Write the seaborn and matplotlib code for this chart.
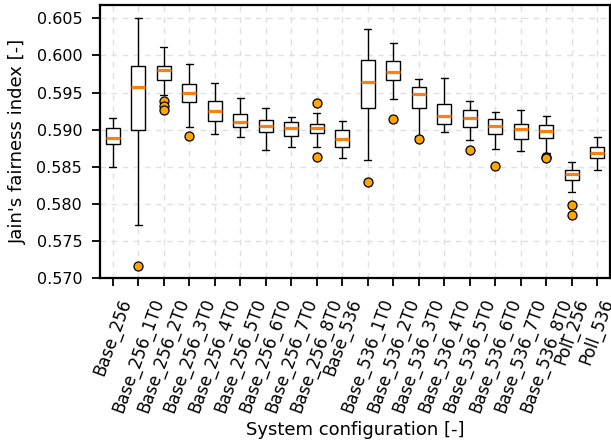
import matplotlib
matplotlib.use("Agg")
import matplotlib.pyplot as plt
import pandas as pd
import seaborn as sns

# configurations on the x axis
configs = [
    "Base_256", "Base_256_1T0", "Base_256_2T0", "Base_256_3T0", "Base_256_4T0",
    "Base_256_5T0", "Base_256_6T0", "Base_256_7T0", "Base_256_8T0", "Base_536",
    "Base_536_1T0", "Base_536_2T0", "Base_536_3T0", "Base_536_4T0", "Base_536_5T0",
    "Base_536_6T0", "Base_536_7T0", "Base_536_8T0", "Poll_256", "Poll_536",
]

# box statistics
whisker_lo = [0.5850, 0.5771, 0.5947, 0.5903, 0.5894, 0.5890, 0.5872, 0.5877, 0.5877, 0.5862,
              0.5859, 0.5941, 0.5892, 0.5897, 0.5886, 0.5874, 0.5871, 0.5868, 0.5816, 0.5846]
q1 = [0.5880, 0.5899, 0.5967, 0.5937, 0.5911, 0.5904, 0.5897, 0.5892, 0.5895, 0.5876,
      0.5929, 0.5967, 0.5929, 0.5907, 0.5904, 0.5894, 0.5888, 0.5889, 0.5832, 0.5862]
median = [0.5889, 0.5957, 0.5980, 0.5950, 0.5925, 0.5910, 0.5905, 0.5902, 0.5902, 0.5887,
          0.5964, 0.5978, 0.5948, 0.5919, 0.5916, 0.5905, 0.5901, 0.5898, 0.5840, 0.5868]
q3 = [0.5902, 0.5986, 0.5986, 0.5961, 0.5939, 0.5921, 0.5913, 0.5910, 0.5908, 0.5900,
      0.5994, 0.5993, 0.5957, 0.5934, 0.5926, 0.5914, 0.5907, 0.5906, 0.5846, 0.5876]
whisker_hi = [0.5916, 0.6050, 0.6011, 0.5988, 0.5963, 0.5942, 0.5929, 0.5917, 0.5923, 0.5912,
              0.6035, 0.6017, 0.5968, 0.5969, 0.5938, 0.5924, 0.5926, 0.5919, 0.5856, 0.5890]
outliers = [
    [], [0.5716], [0.5938, 0.5932, 0.5927], [0.5892], [], [], [], [], [0.5936, 0.5863], [],
    [0.5829], [0.5914], [0.5887], [], [0.5872], [0.5851], [], [0.5863, 0.5862],
    [0.5799, 0.5785], [],
]


def build_frames():
    box_rows = []
    for i, c in enumerate(configs):
        for v in (whisker_lo[i], q1[i], median[i], q3[i], whisker_hi[i]):
            box_rows.append({"config": c, "value": v})
    flier_rows = [{"config": c, "value": v} for c, vals in zip(configs, outliers) for v in vals]
    return pd.DataFrame(box_rows), pd.DataFrame(flier_rows)


def main():
    sns.set_style("ticks")
    plt.rcParams["font.family"] = ["DejaVu Sans"]
    for k in ("text.color", "axes.labelcolor", "xtick.color", "ytick.color", "axes.edgecolor"):
        plt.rcParams[k] = "black"
    box_df, flier_df = build_frames()

    fig = plt.figure(figsize=(6.11, 4.45), dpi=100)
    ax = fig.add_axes([0.164, 0.375, 0.834, 0.614])

    sns.boxplot(
        data=box_df, x="config", y="value", order=configs, ax=ax,
        whis=(0, 100), showfliers=False, width=0.55, color="white",
        linecolor="black", linewidth=1,
        medianprops=dict(color="#ff7f0e", linewidth=2.3),
    )
    sns.stripplot(
        data=flier_df, x="config", y="value", order=configs, ax=ax,
        jitter=False, color="orange", edgecolor="black", linewidth=0.9, size=6.5, zorder=5,
    )

    # dashed grid in both directions, behind the boxes
    ax.grid(True, axis="both", color="#e0e0e0", linestyle=(0, (4, 4)), linewidth=1)
    ax.set_axisbelow(True)

    ax.set_xlim(-0.5, len(configs) - 0.5)
    ax.set_ylim(0.570, 0.6068)
    ax.set_yticks([0.570, 0.575, 0.580, 0.585, 0.590, 0.595, 0.600, 0.605])
    ax.yaxis.set_major_formatter(matplotlib.ticker.FormatStrFormatter("%.3f"))
    ax.tick_params(axis="y", labelsize=11.5, length=6, width=1.3, pad=7)
    ax.tick_params(axis="x", labelsize=12, length=6, width=1.3, pad=7)
    plt.setp(ax.get_xticklabels(), rotation=70)
    for s in ax.spines.values():
        s.set_linewidth(1.6)
        s.set_color("black")
    ax.set_xlabel("System configuration [-]", fontsize=13)
    ax.set_ylabel("Jain's fairness index [-]", fontsize=13, labelpad=7)

    fig.savefig("out.png", dpi=100)
    plt.close(fig)


if __name__ == "__main__":
    main()
